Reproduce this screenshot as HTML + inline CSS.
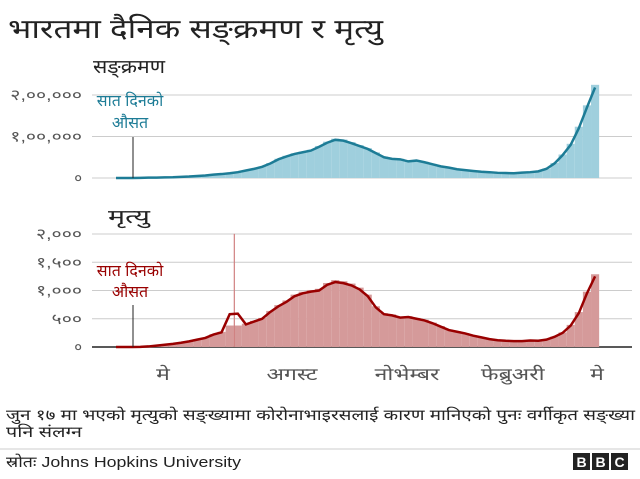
<!DOCTYPE html>
<html><head><meta charset="utf-8"><style>
body{margin:0;background:#fff;width:640px;height:474px;overflow:hidden;font-family:"Liberation Sans","Noto Sans CJK SC",sans-serif}
svg text{font-family:"Liberation Sans","Noto Sans CJK SC",sans-serif}
</style></head><body>
<svg id="c" width="640" height="474">
<text x="8" y="38" font-size="27" fill="#222" textLength="375" lengthAdjust="spacingAndGlyphs">भारतमा दैनिक सङ्क्रमण र मृत्यु</text>
<text x="93" y="73" font-size="19" fill="#222" textLength="72" lengthAdjust="spacingAndGlyphs">सङ्क्रमण</text>
<text x="108" y="223" font-size="19" fill="#222" textLength="42" lengthAdjust="spacingAndGlyphs">मृत्यु</text>
<g id="g"></g>
<text x="130" y="106" font-size="16" fill="#1d7c96" text-anchor="middle">सात दिनको</text>
<text x="130" y="128" font-size="16" fill="#1d7c96" text-anchor="middle">औसत</text>
<line x1="133" y1="137" x2="133" y2="178" stroke="#222"/>
<text x="130" y="276" font-size="16" fill="#990000" text-anchor="middle">सात दिनको</text>
<text x="130" y="297" font-size="16" fill="#990000" text-anchor="middle">औसत</text>
<line x1="133" y1="305" x2="133" y2="347" stroke="#222"/>
<text x="6" y="420" font-size="15" fill="#222" textLength="629" lengthAdjust="spacingAndGlyphs">जुन १७ मा भएको मृत्युको सङ्ख्यामा कोरोनाभाइरसलाई कारण मानिएको पुनः वर्गीकृत सङ्ख्या</text>
<text x="6" y="437" font-size="15" fill="#222" textLength="76" lengthAdjust="spacingAndGlyphs">पनि संलग्न</text>
<line x1="0" y1="449" x2="640" y2="449" stroke="#ccc"/>
<text x="6" y="467" font-size="15" fill="#222" textLength="235" lengthAdjust="spacingAndGlyphs">स्रोतः Johns Hopkins University</text>
<g>
<rect x="573" y="453" width="17" height="17" fill="#222"/><rect x="592" y="453" width="17" height="17" fill="#222"/><rect x="611" y="453" width="17" height="17" fill="#222"/>
<text x="581.5" y="467" font-size="14" font-weight="bold" fill="#fff" text-anchor="middle">B</text>
<text x="600.5" y="467" font-size="14" font-weight="bold" fill="#fff" text-anchor="middle">B</text>
<text x="619.5" y="467" font-size="14" font-weight="bold" fill="#fff" text-anchor="middle">C</text>
</g>
</svg>
<script>
const cases=[0.05,0.08,0.1,0.4,0.8,1,1.4,1.8,2.7,3.5,4.8,6,8,9.5,11.5,14,18,22,27,35,45,52,58,62,66,75,85,92,90,84,77,70,60,50,46,45,40,42,38,33,28,25,21,19,17,15,14,12.5,12,11.5,13,14,16,22,35,55,80,120,170,218];
const deaths=[0,0,0,2,10,25,40,55,75,100,130,160,220,260,580,590,400,450,500,620,720,800,900,950,980,1000,1100,1150,1130,1090,1020,900,700,580,560,520,530,500,470,420,360,300,270,240,200,170,140,120,110,105,105,115,110,130,180,250,380,600,950,1250];
const spikeDay=[102];const spikeValue=[2003];
const caseTicks=[0,100,200];const caseTickLabels=["०","१,००,०००","२,००,०००"];
const deathTicks=[0,500,1000,1500,2000];const deathTickLabels=["०","५००","१,०००","१,५००","२,०००"];
const monthDays=[40.5,151.7,250.9,342,414.7];const monthLabels=["मे","अगस्ट","नोभेम्बर","फेब्रुअरी","मे"];
const NS="http://www.w3.org/2000/svg",g=document.getElementById('g');
const xd=d=>116+d*1.16;
const yc=v=>178-v*0.415;
const yD=v=>347-v*0.0565;
function el(t,a){const e=document.createElementNS(NS,t);for(const k in a)e.setAttribute(k,a[k]);g.appendChild(e);return e;}
function stretch(t,f){const L=t.getComputedTextLength();if(t.textContent.length>1&&L>0){t.setAttribute('textLength',L*f);t.setAttribute('lengthAdjust','spacingAndGlyphs');}}
caseTicks.forEach((t,i)=>{
 const l=el('line',{x1:92,x2:632,y1:yc(t),y2:yc(t),stroke:'#ccc'});
 
 
 const tx=el('text',{x:82,y:yc(t)+5,'font-size':15,fill:'#555','text-anchor':'end'});tx.textContent=caseTickLabels[i];
 
 
 stretch(tx,1.3);
});
deathTicks.forEach((t,i)=>{
 const l=el('line',{x1:92,x2:632,y1:yD(t),y2:yD(t),stroke:t?'#ccc':'#222','stroke-width':t?1:1.5});
 
 
 const tx=el('text',{x:82,y:yD(t)+5,'font-size':15,fill:'#555','text-anchor':'end'});tx.textContent=deathTickLabels[i];
 
 
 stretch(tx,1.3);
});
const w=8.12;
cases.forEach((v,i)=>{const x=xd(i*7);
 const r=el('rect',{x:x-w/2,y:yc(v*1.03),width:w,height:178-yc(v*1.03),fill:'#9fcfdd'});
 
 
});
deaths.forEach((v,i)=>{const x=xd(i*7);const vv=(i==14||i==15)?deaths[16]*0.95:v*1.03;
 const r=el('rect',{x:x-w/2,y:yD(vv),width:w,height:347-yD(vv),fill:'#d59a9a'});
 
 
});
spikeDay.forEach((d,i)=>{const r=el('rect',{x:xd(d)-0.6,y:yD(spikeValue[i]),width:1.2,height:347-yD(spikeValue[i]),fill:'#d08080'});
 
 
});
const cl=el('polyline',{points:cases.map((v,i)=>xd(i*7)+','+yc(v)).join(' '),fill:'none',stroke:'#1d7c96','stroke-width':2.5});


const dl=el('polyline',{points:deaths.map((v,i)=>xd(i*7)+','+yD(v)).join(' '),fill:'none',stroke:'#990000','stroke-width':2.5});


monthDays.forEach((d,i)=>{const t=el('text',{x:xd(d),y:380,'font-size':17,fill:'#555','text-anchor':'middle'});t.textContent=monthLabels[i];
 
 
 stretch(t,1.35);
});
</script>
</body></html>
